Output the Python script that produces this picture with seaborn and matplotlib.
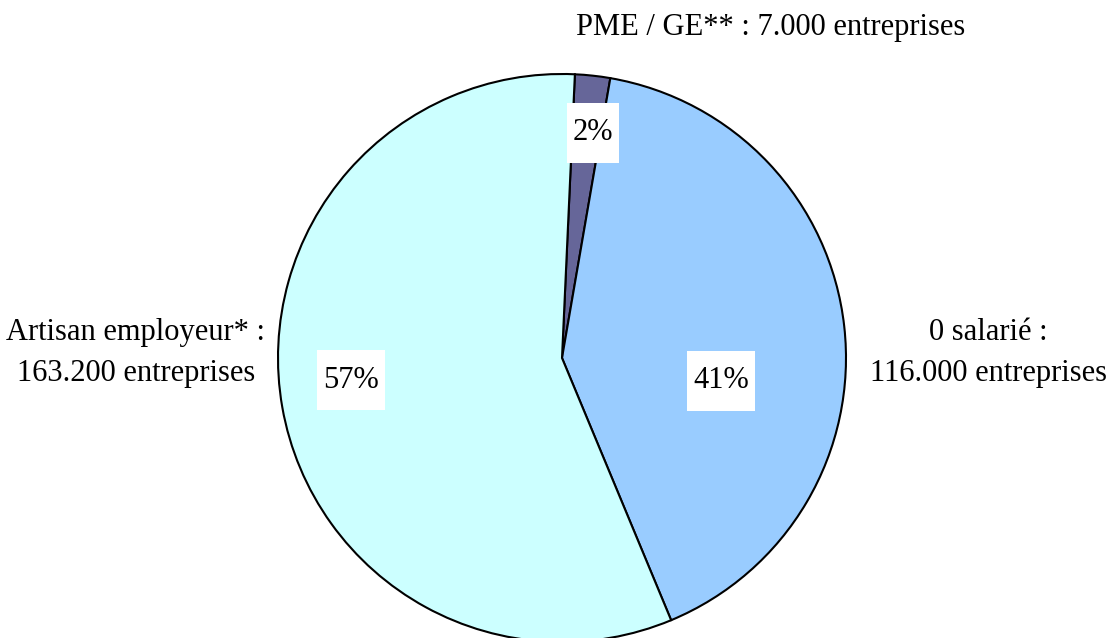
import matplotlib
matplotlib.use("Agg")
import matplotlib.pyplot as plt
import seaborn as sns
from matplotlib.patches import Rectangle

# ---- data ----
categories = ["PME / GE**", "0 salarié", "Artisan employeur*"]
shares = [2, 41, 57]                       # percent shown in the pie
companies = ["7.000", "116.000", "163.200"]  # number of enterprises (labels)
outer_labels = [
    "PME / GE** : 7.000 entreprises",
    "0 salarié :\n116.000 entreprises",
    "Artisan employeur* :\n163.200 entreprises",
]
colors = ["#666699", "#99CCFF", "#CCFFFF"]

sns.set_theme(style="white")
plt.rcParams["font.family"] = ["Liberation Serif", "DejaVu Serif"]

W, H = 1116, 638
fig = plt.figure(figsize=(W / 100, H / 100), dpi=100)
fig.patch.set_facecolor("white")

cx, cy, r = 562, 358, 284  # pixel center & radius
ax = fig.add_axes([(cx - r) / W, (H - cy - r) / H, 2 * r / W, 2 * r / H])

wedges, _ = ax.pie(
    shares,
    colors=colors,
    startangle=87.4,
    counterclock=False,
    radius=1.0,
    wedgeprops=dict(edgecolor="black", linewidth=1.5),
)
for w in wedges:
    w.set_clip_on(False)
ax.set_xlim(-1, 1)
ax.set_ylim(-1, 1)
ax.set_aspect("auto")
ax.axis("off")


def px(x, y):
    return ((x - cx) / r, (cy - y) / r)


fs = 22
# percent labels positions (pixel)
pct_pos = [(593, 133), (721, 381), (351, 380)]
texts = []
for val, (x, y) in zip(shares, pct_pos):
    dx, dy = px(x, y)
    t = ax.text(dx, dy, f"{val:.0f}%", ha="center", va="center",
                fontsize=fs, color="black", zorder=5)
    texts.append((t, x, y))

fig.canvas.draw()
renderer = fig.canvas.get_renderer()
inv = ax.transData.inverted()
for t, x, y in texts:
    bb = t.get_window_extent(renderer)
    wpx = bb.width + 12
    hpx = 60
    x0, y0 = inv.transform((bb.x0 + bb.width / 2 - wpx / 2, (H - y) - hpx / 2))
    x1, y1 = inv.transform((bb.x0 + bb.width / 2 + wpx / 2, (H - y) + hpx / 2))
    ax.add_patch(Rectangle((x0, y0), x1 - x0, y1 - y0, facecolor="white",
                           edgecolor="none", zorder=4, clip_on=False))

# outer labels
outer_pos = [(771, 28), (988, 353), (136, 353)]
for lab, (x, y) in zip(outer_labels, outer_pos):
    fig.text(x / W, 1 - y / H, lab, ha="center", va="center",
             fontsize=fs, color="black", linespacing=1.55)

fig.savefig("out.png", dpi=100, facecolor="white")
